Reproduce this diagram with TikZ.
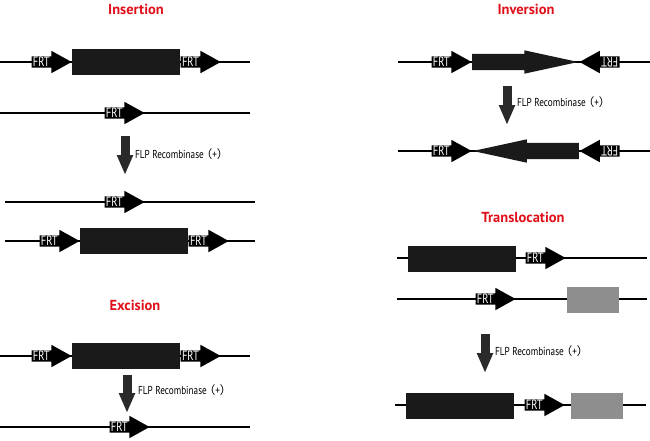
\documentclass[tikz,border=0pt]{standalone}
\usepackage{fontspec}
\setmainfont{PT Sans}
\newfontfamily\cjk{Noto Sans CJK SC}
\newfontfamily\narrowfont[FakeStretch=0.78]{PT Sans}
\newfontfamily\flpfont[FakeStretch=0.8]{PT Sans}
\usepackage{tikz}
\usetikzlibrary{shapes, arrows.meta, positioning}
\definecolor{TitleRed}{HTML}{E0101A}
\definecolor{GeneBlack}{HTML}{1A1A1A}
\definecolor{GeneGray}{HTML}{8E8E8E}
\definecolor{ArrowGray}{HTML}{2A2A2A}
\newcommand{\flplabel}{FLP Recombinase\kern-3pt{\cjk （}+{\cjk ）}}

\begin{document}
\begin{tikzpicture}[
			x=1pt, y=-1pt,
			title/.style={font=\bfseries\fontsize{14.5}{16}\selectfont, text=TitleRed},
			dna/.style={line width=1.3pt},
			frt/.style={single arrow, fill=black, text=white, font=\narrowfont\fontsize{13.5}{13}\selectfont, text width=27pt, align=left, inner xsep=1.2pt, inner ysep=1pt, text height=9pt, text depth=0pt, single arrow head extend=5.5pt, single arrow tip angle=58, anchor=tip},
			frtrev/.style={frt, rotate=180},
			gene/.style={rectangle, fill=GeneBlack, minimum width=108pt, minimum height=26pt, inner sep=0pt},
			graygene/.style={rectangle, fill=GeneGray, minimum width=52pt, minimum height=26pt, inner sep=0pt},
			cds/.style={single arrow, fill=GeneBlack, minimum height=106pt, inner xsep=0pt, inner ysep=8pt, text height=0pt, text depth=0pt, single arrow head extend=3.5pt, single arrow tip angle=24.5},
			flp/.style={-{Triangle[length=20pt, width=15pt]}, line width=9pt, draw=ArrowGray},
			flptext/.style={anchor=west, inner xsep=0pt, font=\flpfont\fontsize{11.5}{13}\selectfont}
			]
			\useasboundingbox (0,0) rectangle (650,440);
			
			% Insertion
			\node[title] (institle) at (136,9) {Insertion};
			\coordinate (ins1a) at (0,62);   \coordinate (ins1b) at (250,62);
			\coordinate (ins2a) at (0,113);  \coordinate (ins2b) at (250,113);
			\coordinate (ins3a) at (5,202);  \coordinate (ins3b) at (255,202);
			\coordinate (ins4a) at (5,241);  \coordinate (ins4b) at (255,241);
			\draw[dna] (ins1a) -- (ins1b);
			\draw[dna] (ins2a) -- (ins2b);
			\draw[dna] (ins3a) -- (ins3b);
			\draw[dna] (ins4a) -- (ins4b);
			\node[frt] (insfrt1) at (72,62) {FRT};
			\node[gene, right=0pt of insfrt1.tip] (insgene1) {};
			\node[frt, anchor=tail] (insfrt2) at (insgene1.east) {FRT};
			\node[frt] (insfrt3) at (145,113) {FRT};
			\coordinate (insflptop) at (125,136); \coordinate (insflpbot) at (125,175);
			\draw[flp] (insflptop) -- (insflpbot);
			\node[flptext] (insflp) at (135,154) {\flplabel};
			\node[frt] (insfrt4) at (145,202) {FRT};
			\node[frt] (insfrt5) at (80,241) {FRT};
			\node[gene, right=0pt of insfrt5.tip] (insgene2) {};
			\node[frt, anchor=tail] (insfrt6) at (insgene2.east) {FRT};
			
			% Excision
			\node[title] (exctitle) at (135,305) {Excision};
			\coordinate (exc1a) at (0,356);  \coordinate (exc1b) at (250,356);
			\coordinate (exc2a) at (0,427);  \coordinate (exc2b) at (250,427);
			\draw[dna] (exc1a) -- (exc1b);
			\draw[dna] (exc2a) -- (exc2b);
			\node[frt] (excfrt1) at (72,356) {FRT};
			\node[gene, right=0pt of excfrt1.tip] (excgene) {};
			\node[frt, anchor=tail] (excfrt2) at (excgene.east) {FRT};
			\coordinate (excflptop) at (127,375); \coordinate (excflpbot) at (127,413);
			\draw[flp] (excflptop) -- (excflpbot);
			\node[flptext] (excflp) at (138,390) {\flplabel};
			\node[frt] (excfrt3) at (150,427) {FRT};
			
			% Inversion
			\node[title] (invtitle) at (526,9) {Inversion};
			\coordinate (inv1a) at (398,62);  \coordinate (inv1b) at (650,62);
			\coordinate (inv2a) at (398,151); \coordinate (inv2b) at (650,151);
			\draw[dna] (inv1a) -- (inv1b);
			\draw[dna] (inv2a) -- (inv2b);
			\node[frt] (invfrt1) at (472,62) {FRT};
			\node[cds, anchor=tail] (invcds1) at (invfrt1.tip) {};
			\node[frtrev] (invfrt2) at (invcds1.tip) {FRT};
			\coordinate (invflptop) at (507,86); \coordinate (invflpbot) at (507,125);
			\draw[flp] (invflptop) -- (invflpbot);
			\node[flptext] (invflp) at (517,102) {\flplabel};
			\node[frt] (invfrt3) at (472,151) {FRT};
			\node[cds, rotate=180, anchor=tip] (invcds2) at (invfrt3.tip) {};
			\node[frtrev] (invfrt4) at (invcds2.tail) {FRT};
			
			% Translocation
			\node[title] (tratitle) at (523,217) {Translocation};
			\coordinate (tra1a) at (397,258); \coordinate (tra1b) at (647,258);
			\coordinate (tra2a) at (397,299); \coordinate (tra2b) at (647,299);
			\coordinate (tra3a) at (395,405); \coordinate (tra3b) at (646,405);
			\draw[dna] (tra1a) -- (tra1b);
			\draw[dna] (tra2a) -- (tra2b);
			\draw[dna] (tra3a) -- (tra3b);
			\node[gene] (tragene1) at (461.5,259) {};
			\node[frt] (trafrt1) at (566,258) {FRT};
			\node[frt] (trafrt2) at (516,299) {FRT};
			\node[graygene] (tragray1) at (593,300) {};
			\coordinate (traflptop) at (485,334); \coordinate (traflpbot) at (485,373);
			\draw[flp] (traflptop) -- (traflpbot);
			\node[flptext] (traflp) at (495,351) {\flplabel};
			\node[gene] (tragene2) at (460,405.5) {};
			\node[frt] (trafrt3) at (565,405) {FRT};
			\node[graygene] (tragray2) at (597,405.5) {};
			
		\end{tikzpicture}
\end{document}
